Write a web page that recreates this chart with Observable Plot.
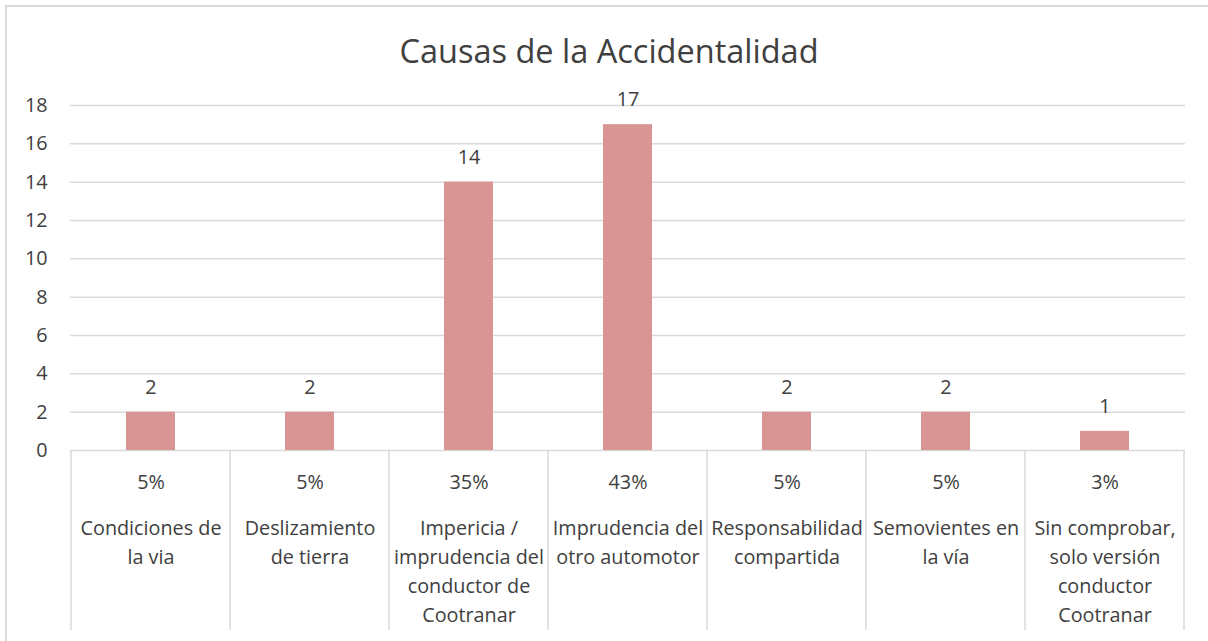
<!DOCTYPE html>
<html>
<head>
<meta charset="utf-8">
<script src="https://cdn.jsdelivr.net/npm/d3@7"></script>
<script src="https://cdn.jsdelivr.net/npm/@observablehq/plot@0.6"></script>
<style>
  html, body { margin: 0; padding: 0; background: #fff; width: 1208px; height: 641px; overflow: hidden; }
  #frame { position: absolute; left: 5px; top: 5px; width: 1220px; height: 660px;
           border-top: 2px solid #d9d9d9; border-left: 2px solid #d9d9d9; box-sizing: border-box; }
  #title { position: absolute; left: 0; width: 1218px; top: 29px; text-align: center;
           font-family: "Open Sans", sans-serif; font-size: 32.5px; color: #404040; line-height: 44px; }
  #chart { position: absolute; left: 0; top: 0; }
</style>
</head>
<body>
<div id="frame"></div>
<div id="chart"></div>
<div id="title">Causas de la Accidentalidad</div>
<script>
const categories = [
  "Condiciones de\nla via",
  "Deslizamiento\nde tierra",
  "Impericia /\nimprudencia del\nconductor de\nCootranar",
  "Imprudencia del\notro automotor",
  "Responsabilidad\ncompartida",
  "Semovientes en\nla vía",
  "Sin comprobar,\nsolo versión\nconductor\nCootranar"
];
const values = [2, 2, 14, 17, 2, 2, 1];
const percentLabels = ["5%", "5%", "35%", "43%", "5%", "5%", "3%"];
const yTicks = [0, 2, 4, 6, 8, 10, 12, 14, 16, 18];

const data = categories.map((c, i) => ({cat: c, value: values[i], pct: percentLabels[i]}));

const W = 1208, H = 641;
const mL = 70, mR = 23, mT = 105, mB = 191;
const gray = "#d9d9d9";
const textColor = "#404040";
const fs = 19.8;

function separators(index, scales, vals, dims) {
  const x = scales.x;
  const n = categories.length;
  const step = (typeof x.step === "function") ? x.step() : (dims.width - dims.marginLeft - dims.marginRight) / n;
  const bw = (typeof x.bandwidth === "function") ? x.bandwidth() : 0;
  const xs = categories.map(c => x(c) + bw / 2 - step / 2);
  xs.push(xs[xs.length - 1] + step);
  const g = d3.create("svg:g");
  g.selectAll("line").data(xs).join("line")
    .attr("x1", d => d).attr("x2", d => d)
    .attr("y1", dims.height - dims.marginBottom)
    .attr("y2", dims.height - 11)
    .attr("stroke", gray).attr("stroke-width", 1.5);
  return g.node();
}

const chart = Plot.plot({
  width: W, height: H,
  marginLeft: mL, marginRight: mR, marginTop: mT, marginBottom: mB,
  style: {fontFamily: "'Open Sans', sans-serif", fontSize: fs + "px", color: textColor, background: "transparent", overflow: "visible"},
  x: {domain: categories, paddingInner: 0.69, paddingOuter: 0.345, axis: null, label: null},
  y: {domain: [0, 18], axis: null, label: null},
  marks: [
    Plot.gridY(yTicks, {stroke: gray, strokeOpacity: 1, strokeWidth: 1.5}),
    Plot.axisY(yTicks, {tickSize: 0, tickPadding: 23, fontSize: fs, fill: textColor, label: null}),
    Plot.barY(data, {x: "cat", y: "value", fill: "#D99594"}),
    Plot.text(data, {x: "cat", y: "value", text: d => String(d.value), dy: -25, lineAnchor: "middle", fontSize: fs, fill: textColor}),
    Plot.text(data, {x: "cat", frameAnchor: "bottom", text: "pct", lineAnchor: "top", dy: 24, fontSize: fs, fill: textColor}),
    Plot.text(data, {x: "cat", frameAnchor: "bottom", text: "cat", lineAnchor: "top", dy: 64, lineHeight: 1.47, fontSize: fs, fill: textColor}),
    separators
  ]
});
document.getElementById("chart").appendChild(chart);
</script>
</body>
</html>
